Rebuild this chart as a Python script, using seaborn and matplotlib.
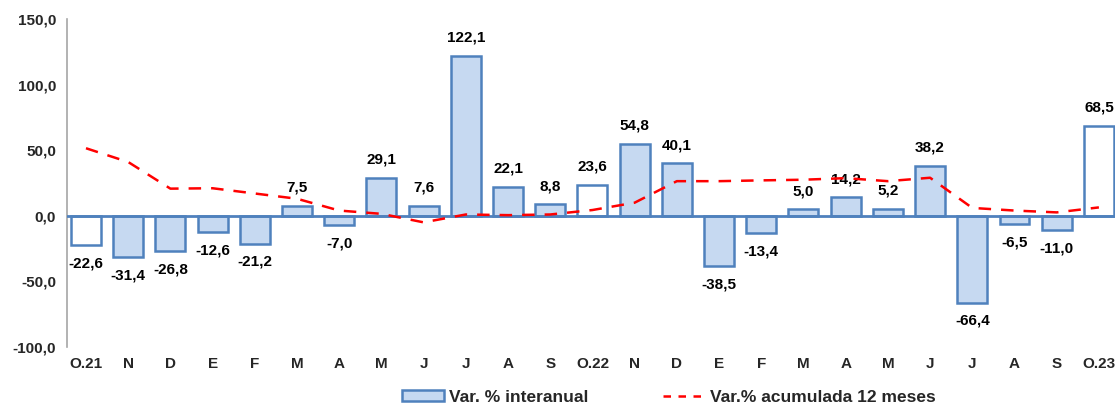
import matplotlib
matplotlib.use("Agg")
import matplotlib.pyplot as plt
import seaborn as sns
import pandas as pd
from matplotlib.patches import Patch
from matplotlib.lines import Line2D

months = ["O.21", "N", "D", "E", "F", "M", "A", "M", "J", "J", "A", "S",
          "O.22", "N", "D", "E", "F", "M", "A", "M", "J", "J", "A", "S", "O.23"]
interanual = [-22.6, -31.4, -26.8, -12.6, -21.2, 7.5, -7.0, 29.1, 7.6, 122.1, 22.1, 8.8,
              23.6, 54.8, 40.1, -38.5, -13.4, 5.0, 14.2, 5.2, 38.2, -66.4, -6.5, -11.0, 68.5]
acumulada = [51.5, 41.0, 20.7, 21.0, 17.0, 13.0, 4.0, 1.5, -5.0, 1.0, 0.5, 1.0,
             4.4, 10.0, 26.4, 26.4, 27.0, 27.5, 28.7, 26.4, 29.0, 6.0, 4.0, 2.6, 6.4]
white_bars = {0, 12, 24}

sns.set_theme(style="white")
plt.rcParams['font.family'] = ['Liberation Sans', 'DejaVu Sans']

EDGE = "#4F81BD"
FILL = "#C6D9F1"
RED = "#FF0000"

df = pd.DataFrame({"pos": list(range(len(months))), "inter": interanual, "acum": acumulada})

fig = plt.figure(figsize=(11.15, 4.05), dpi=100)
ax = fig.add_axes([67 / 1115, 58 / 405, (1120 - 67) / 1115, (347 - 19) / 405])

sns.barplot(data=df, x="pos", y="inter", ax=ax, width=0.71, color=FILL,
            edgecolor=EDGE, linewidth=1.8, saturation=1)
for i, p in enumerate(ax.patches):
    if i in white_bars:
        p.set_facecolor("white")

sns.lineplot(data=df, x="pos", y="acum", ax=ax, color=RED, lw=1.8,
             linestyle=(0, (5, 4)), zorder=5)

ax.axhline(0, color=EDGE, lw=2, zorder=4)

for i, v in enumerate(interanual):
    off = 13 if v >= 0 else -13
    ax.annotate(f"{v:.1f}".replace(".", ","), (i, v), xytext=(0, off),
                textcoords="offset points", ha="center", va="center",
                fontsize=11, fontweight="bold", color="black")

ax.set_xlim(-0.45, 24.5)
ax.set_ylim(-100, 150)
ax.set_yticks([-100, -50, 0, 50, 100, 150])
ax.set_yticklabels([f"{t:.1f}".replace(".", ",") for t in [-100, -50, 0, 50, 100, 150]],
                   fontsize=11, fontweight="bold")
ax.set_xticks(range(len(months)))
ax.set_xticklabels(months, fontsize=11, fontweight="bold")
ax.tick_params(axis="both", length=0)
ax.tick_params(axis="y", pad=8)
ax.tick_params(axis="x", pad=7)
ax.set_xlabel("")
ax.set_ylabel("")
for s in ["top", "right", "bottom"]:
    ax.spines[s].set_visible(False)
ax.spines["left"].set_color("#A6A6A6")
ax.spines["left"].set_linewidth(1.2)
ax.grid(False)

handles = [Patch(facecolor=FILL, edgecolor=EDGE, linewidth=1.8, label="Var. % interanual"),
           Line2D([0], [0], color=RED, lw=1.8, linestyle=(0, (3, 3)), label="Var.% acumulada 12 meses")]
leg = fig.legend(handles=handles, loc="center", bbox_to_anchor=(669 / 1115, 1 - 397 / 405),
                 ncol=2, frameon=False, prop={"size": 12.5, "weight": "bold"},
                 handlelength=2.4, handleheight=0.6, columnspacing=4.3, handletextpad=0.3)

fig.savefig("out.png", dpi=100)
